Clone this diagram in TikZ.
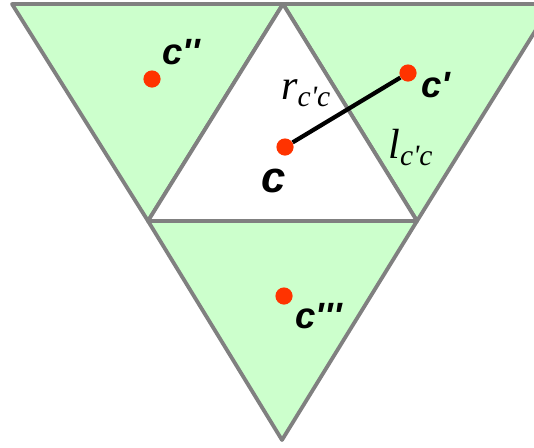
\documentclass[tikz,border=0pt]{standalone}
\usepackage{fontspec}
\setmainfont{Liberation Sans}
\newfontfamily\cellfont{Liberation Sans}[Ligatures=TeXOff]
\newfontfamily\timesfont{Liberation Serif}[Ligatures=TeXOff]
\usepackage{xcolor}
\usepackage{tikz}
\definecolor{cellgreen}{RGB}{204,255,204}
\definecolor{edgegray}{RGB}{128,128,128}
\definecolor{centrered}{RGB}{255,51,0}
\newcommand{\distlab}[2]{{\timesfont\itshape #1\raisebox{-5pt}{\fontsize{21}{21}\selectfont #2}}}

\begin{document}
\begin{tikzpicture}[x=0.025cm, y=-0.025cm,
    cell/.style={draw=edgegray, fill=cellgreen, line width=2.7pt, line join=round},
    hole/.style={draw=edgegray, fill=white, line width=2.7pt, line join=round},
    centre/.style={circle, fill=centrered, inner sep=0pt, minimum size=0.43cm},
    celltag/.style={anchor=base west, inner sep=0pt, font=\cellfont\bfseries\itshape\fontsize{26}{26}\selectfont},
    dist/.style={anchor=base west, inner sep=0pt, font=\fontsize{30}{30}\selectfont},
    link/.style={black, line width=3pt}
]
\useasboundingbox (0,0) rectangle (534,448);
\clip (0,0) rectangle (534,448);
% the three outer cells and the middle one
\draw[cell] (12,4) -- (283,4) -- (148,221) -- cycle;
\draw[cell] (283,4) -- (552,4) -- (417,221) -- cycle;
\draw[cell] (148,221) -- (417,221) -- (282,440) -- cycle;
\draw[hole] (283,4) -- (148,221) -- (417,221) -- cycle;
\node[centre] (c) at (285,147) {};
\node[centre] (cp) at (408,73) {};
\node[centre] (cpp) at (152,79) {};
\node[centre] (cppp) at (284,296) {};
\draw[link] (c) -- (cp);
\node[celltag, font=\cellfont\bfseries\itshape\fontsize{31}{31}\selectfont] (cl) at (261,192) {c};
\node[celltag] (cpl) at (421,97) {c'};
\node[celltag] (cppl) at (162,64) {c''};
\node[celltag] (cpppl) at (295,328) {c'''};
\node[dist] (r) at (281,99) {\distlab{r}{c'c}};
\node[dist] (l) at (388,158) {\distlab{l}{c'c}};
\end{tikzpicture}
\end{document}
